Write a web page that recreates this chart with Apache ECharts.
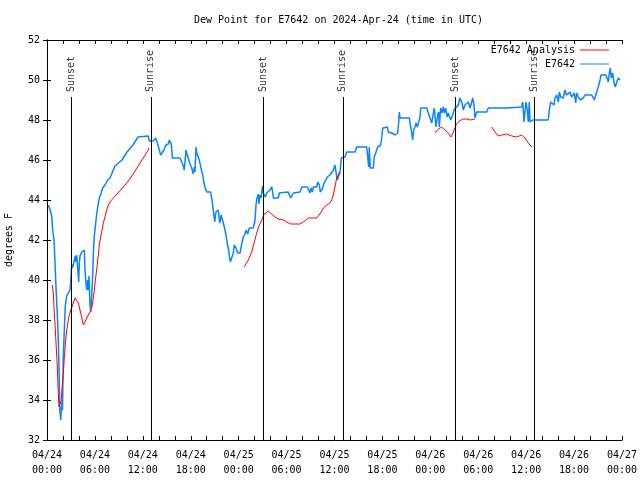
<!DOCTYPE html>
<html><head><meta charset="utf-8">
<script src="https://cdn.jsdelivr.net/npm/echarts@6/dist/echarts.min.js"></script>
<style>html,body{margin:0;padding:0;background:#fff}#c{width:640px;height:480px}</style>
</head><body><div id="c"></div>
<script>
// x values are hours since 2024-04-24 00:00 UTC
const xTickLabels = ['04/24\n00:00','04/24\n06:00','04/24\n12:00','04/24\n18:00','04/25\n00:00','04/25\n06:00','04/25\n12:00','04/25\n18:00','04/26\n00:00','04/26\n06:00','04/26\n12:00','04/26\n18:00','04/27\n00:00'];
const sunHours = [3.0, 13.0, 27.05, 37.05, 51.1, 61.05];
const sunNames = ['Sunset','Sunrise','Sunset','Sunrise','Sunset','Sunrise'];
const obsE7642 = [
[0.16,43.75],[0.38,43.5],[0.59,43.2],[0.71,42.5],[0.88,42.0],[1.0,40.9],[1.13,39.6],[1.29,38.3],[1.41,37.1],[1.5,35.6],[1.59,33.6],[1.72,33.0],[1.79,33.5],[1.88,34.0],[1.94,33.5],[2.04,36.2],[2.17,37.5],[2.29,38.7],[2.47,39.2],[2.67,39.25],[2.88,39.5],[2.97,39.9],[3.09,40.8],[3.17,40.6],[3.29,40.75],[3.42,40.8],[3.54,41.2],[3.63,40.9],[3.72,41.25],[3.8,40.8],[3.88,40.4],[3.97,39.9],[4.04,40.8],[4.13,41.2],[4.35,41.4],[4.55,41.5],[4.67,41.5],[4.76,40.5],[4.85,40.0],[4.97,39.5],[5.1,40.0],[5.17,39.5],[5.26,40.2],[5.38,38.8],[5.47,38.4],[5.6,39.2],[5.72,40.2],[5.8,41.3],[5.92,42.2],[6.1,42.85],[6.22,43.3],[6.42,43.8],[6.55,44.1],[6.76,44.3],[6.97,44.6],[7.26,44.75],[7.48,44.85],[7.6,45.0],[7.89,45.1],[8.51,45.7],[9.39,46.0],[10.02,46.4],[10.77,46.75],[11.4,47.15],[11.65,47.2],[12.68,47.2],[12.81,46.95],[13.31,46.95],[13.61,47.1],[13.74,47.2],[13.86,46.8],[14.06,46.5],[14.24,46.25],[14.49,46.25],[14.65,46.5],[14.9,46.75],[15.19,46.8],[15.31,47.0],[15.49,47.1],[15.56,46.8],[15.65,46.4],[15.69,46.1],[16.65,46.1],[16.87,45.9],[17.07,45.7],[17.19,45.5],[17.28,45.9],[17.41,46.5],[17.49,46.35],[17.69,46.1],[17.91,45.8],[18.12,45.6],[18.32,45.3],[18.44,45.65],[18.53,45.4],[18.66,46.65],[18.75,46.35],[18.87,46.4],[19.07,46.0],[19.28,45.6],[19.5,45.25],[19.66,44.85],[19.82,44.6],[20.0,44.4],[20.5,44.4],[20.62,44.1],[20.75,43.7],[20.91,43.2],[21.0,42.9],[21.16,43.4],[21.32,43.5],[21.45,43.5],[21.58,43.0],[21.66,42.85],[21.79,43.25],[21.95,43.35],[22.08,42.85],[22.29,42.5],[22.41,42.25],[22.58,41.8],[22.75,41.5],[22.83,41.2],[22.95,40.9],[23.2,40.9],[23.33,41.35],[23.45,41.75],[23.67,41.6],[23.88,41.35],[24.17,41.35],[24.38,41.8],[24.58,42.15],[24.79,42.3],[24.92,42.5],[25.13,42.3],[25.33,42.6],[25.54,42.5],[25.83,42.6],[25.96,42.5],[26.05,43.0],[26.17,43.75],[26.3,44.1],[26.46,44.3],[26.55,43.8],[26.67,44.25],[26.8,44.1],[26.92,44.5],[27.01,44.7],[27.09,44.35],[27.21,44.25],[27.34,44.15],[27.51,44.35],[27.71,44.25],[27.92,44.5],[28.14,44.65],[28.26,44.4],[28.34,44.1],[28.96,44.1],[29.09,44.35],[29.26,44.4],[30.22,44.4],[30.34,44.25],[30.52,44.1],[30.77,44.1],[30.84,44.35],[31.05,44.4],[31.68,44.4],[31.89,44.65],[32.59,44.65],[32.77,44.5],[32.93,44.35],[33.06,44.6],[33.22,44.4],[33.35,44.65],[33.77,44.65],[33.9,44.9],[34.02,45.0],[34.1,44.75],[34.22,44.4],[34.31,44.35],[34.52,44.6],[34.69,44.85],[34.94,45.0],[35.1,45.15],[35.44,45.25],[35.65,45.35],[35.85,45.5],[36.06,45.75],[36.19,45.4],[36.35,45.0],[36.53,44.9],[36.69,45.4],[36.85,46.1],[37.03,46.15],[37.32,46.15],[37.53,46.4],[38.57,46.4],[38.78,46.65],[40.03,46.65],[40.16,46.15],[40.28,45.65],[40.36,46.65],[40.48,45.6],[40.86,45.6],[40.98,46.15],[41.2,46.4],[41.41,46.65],[41.79,46.75],[41.91,47.1],[42.04,47.6],[42.11,47.65],[42.61,47.65],[42.74,47.4],[43.16,47.35],[43.58,47.25],[43.91,47.35],[44.04,47.9],[44.11,48.4],[44.2,48.1],[45.37,48.1],[45.45,47.85],[45.67,47.35],[45.79,47.0],[45.92,47.5],[46.08,47.65],[46.21,47.85],[46.37,47.65],[46.54,47.9],[46.71,48.15],[46.79,48.6],[47.55,48.6],[47.75,48.35],[47.96,48.1],[48.17,47.85],[48.37,47.75],[48.5,48.6],[48.71,47.65],[48.92,48.25],[49.05,48.4],[49.12,47.65],[49.3,48.6],[49.46,48.35],[49.62,48.65],[49.75,48.35],[49.92,48.6],[50.09,48.15],[50.25,48.35],[50.55,48.0],[50.8,48.25],[50.96,48.5],[51.21,48.6],[51.5,48.75],[51.72,49.1],[51.84,49.15],[51.97,48.85],[52.13,48.5],[52.34,48.75],[52.55,48.65],[52.75,48.9],[52.97,48.6],[53.18,48.9],[53.31,49.1],[53.47,48.75],[53.59,48.1],[53.81,48.4],[55.06,48.4],[55.26,48.6],[57.56,48.6],[57.77,48.65],[59.44,48.65],[59.57,48.9],[59.73,47.9],[59.86,47.9],[59.98,48.9],[60.14,48.5],[60.27,47.9],[60.39,48.9],[60.48,47.9],[60.82,48.0],[62.77,48.0],[62.9,48.5],[63.07,48.9],[63.32,48.9],[63.49,48.75],[63.61,49.1],[63.82,49.25],[64.03,48.9],[64.15,49.4],[64.33,49.15],[64.45,49.25],[64.65,49.1],[64.86,49.5],[65.08,49.25],[65.28,49.15],[65.49,49.4],[65.7,49.15],[65.9,49.1],[66.03,49.35],[66.2,48.85],[66.33,49.35],[66.53,49.15],[66.74,49.0],[66.95,48.9],[67.16,49.1],[67.37,49.25],[68.21,49.25],[68.41,49.35],[68.54,49.0],[68.71,49.25],[68.83,49.35],[69.03,49.65],[69.25,50.0],[69.37,50.25],[69.99,50.25],[70.16,50.15],[70.29,49.9],[70.41,50.35],[70.54,50.6],[70.66,50.1],[70.84,50.35],[71.0,49.85],[71.16,49.65],[71.34,49.9],[71.54,50.1],[71.75,50.0]
];
const anaE7642 = [
[0.66,39.75],[0.79,39.35],[0.88,38.6],[1.0,37.8],[1.13,36.85],[1.25,36.0],[1.34,35.2],[1.41,34.4],[1.5,33.65],[1.63,33.6],[1.79,34.0],[1.88,34.6],[2.04,35.25],[2.17,36.15],[2.34,37.0],[2.47,37.5],[2.67,38.0],[2.79,38.25],[2.97,38.5],[3.13,38.65],[3.29,38.85],[3.51,39.1],[3.72,39.15],[3.92,38.85],[4.13,38.5],[4.35,38.15],[4.55,37.75],[4.76,37.9],[4.97,38.1],[5.17,38.25],[5.38,38.4],[5.6,38.6],[5.72,38.85],[5.89,39.35],[6.05,40.0],[6.22,40.5],[6.35,41.0],[6.47,41.4],[6.55,41.75],[6.72,42.15],[6.89,42.5],[7.05,42.85],[7.26,43.15],[7.48,43.5],[7.68,43.75],[7.98,43.95],[8.3,44.1],[8.73,44.3],[9.14,44.45],[9.55,44.65],[9.89,44.8],[10.18,44.95],[10.8,45.3],[11.65,45.85],[12.06,46.1],[12.68,46.5],[12.75,46.6],
[18,null],
[24.67,40.65],[25.21,41.0],[25.63,41.4],[25.96,41.9],[26.26,42.35],[26.58,42.75],[26.92,43.0],[27.09,43.25],[27.34,43.3],[27.71,43.45],[28.14,43.3],[28.55,43.15],[28.96,43.05],[29.59,43.0],[30.02,42.9],[30.55,42.8],[31.05,42.8],[31.68,42.8],[32.09,42.9],[32.72,43.1],[33.15,43.1],[33.77,43.1],[34.18,43.3],[34.6,43.6],[35.02,43.75],[35.44,43.85],[35.65,44.0],[35.85,44.25],[36.06,44.65],[36.27,45.1],[36.48,45.25],[36.63,45.4],
[42,null],
[48.58,47.35],[49.0,47.55],[49.42,47.65],[49.84,47.5],[50.25,47.35],[50.59,47.15],[50.88,47.4],[51.21,47.75],[51.63,47.95],[52.13,48.05],[52.55,48.05],[52.97,48.0],[53.59,48.05],
[54.5,null],
[55.68,47.65],[56.1,47.4],[56.51,47.2],[56.94,47.25],[57.56,47.3],[58.19,47.2],[58.82,47.15],[59.44,47.25],[59.86,47.1],[60.27,46.85],[60.69,46.65]
];
const FONT = 'DejaVu Sans Mono';
const chart = echarts.init(document.getElementById('c'), null, {renderer:'canvas'});
const axisLineStyle = {color:'#000', width:1};
chart.setOption({
  animation:false,
  backgroundColor:'#fff',
  title:{text:'Dew Point for E7642 on 2024-Apr-24 (time in UTC)', left:189, top:10,
    textStyle:{fontFamily:FONT, fontSize:10, fontWeight:'normal', color:'#000'}},
  grid:{left:47, right:18, top:40, bottom:40, containLabel:false, outerBoundsMode:'none'},
  legend:[
    {data:['E7642 Analysis'], right:26, top:39, orient:'vertical', align:'right', icon:'rect', itemWidth:29, itemHeight:1,
     textStyle:{fontFamily:FONT, fontSize:10, color:'#000', lineHeight:12}},
    {data:['E7642'], right:26, top:53, orient:'vertical', align:'right', icon:'rect', itemWidth:29, itemHeight:1,
     textStyle:{fontFamily:FONT, fontSize:10, color:'#000', lineHeight:12}}
  ],
  xAxis:[
    {type:'value', min:0, max:72, interval:2, position:'bottom',
     axisLine:{show:true, lineStyle:axisLineStyle},
     axisTick:{show:true, inside:true, length:4, lineStyle:axisLineStyle},
     splitLine:{show:false},
     axisLabel:{fontFamily:FONT, fontSize:10, color:'#000', margin:8, lineHeight:15,
       formatter:v => (v % 6 === 0) ? xTickLabels[v/6] : ''}},
    {type:'value', min:0, max:72, interval:2, position:'top',
     axisLine:{show:true, lineStyle:axisLineStyle},
     axisTick:{show:true, inside:true, length:4, lineStyle:axisLineStyle},
     splitLine:{show:false}, axisLabel:{show:false}}
  ],
  yAxis:[
    {type:'value', min:32, max:52, interval:2, position:'left',
     name:'degrees F', nameLocation:'middle', nameGap:33, nameRotate:90,
     nameTextStyle:{fontFamily:FONT, fontSize:10, color:'#000'},
     axisLine:{show:true, lineStyle:axisLineStyle},
     axisTick:{show:true, inside:true, length:4, lineStyle:axisLineStyle},
     splitLine:{show:false},
     axisLabel:{fontFamily:FONT, fontSize:10, color:'#000', margin:7}},
    {type:'value', min:32, max:52, interval:2, position:'right',
     axisLine:{show:true, lineStyle:axisLineStyle},
     axisTick:{show:true, inside:true, length:4, lineStyle:axisLineStyle},
     splitLine:{show:false}, axisLabel:{show:false}}
  ],
  series:[
    {name:'E7642 Analysis', type:'line', data:anaE7642, showSymbol:false, symbol:'none', connectNulls:false,
     color:'#ff0000', lineStyle:{color:'#ff0000', width:1}, z:3},
    {name:'E7642', type:'line', data:obsE7642, showSymbol:false, symbol:'none',
     color:'#0a84ff', lineStyle:{color:'#0a84ff', width:1.5}, z:2},
    {name:'sun', type:'scatter', symbolSize:0, z:4,
     data:sunHours.map((h,i)=>[h, 49.4, sunNames[i]]),
     label:{show:true, formatter:p=>p.data[2], rotate:90, position:'inside', align:'left', verticalAlign:'middle',
       fontFamily:FONT, fontSize:10, color:'#000'},
     markLine:{silent:true, symbol:['none','none'], label:{show:false},
       lineStyle:{color:'#000', width:1, type:'solid'},
       data:sunHours.map(h=>[{coord:[h,32]},{coord:[h,49.15]}])}}
  ]
});
</script></body></html>
